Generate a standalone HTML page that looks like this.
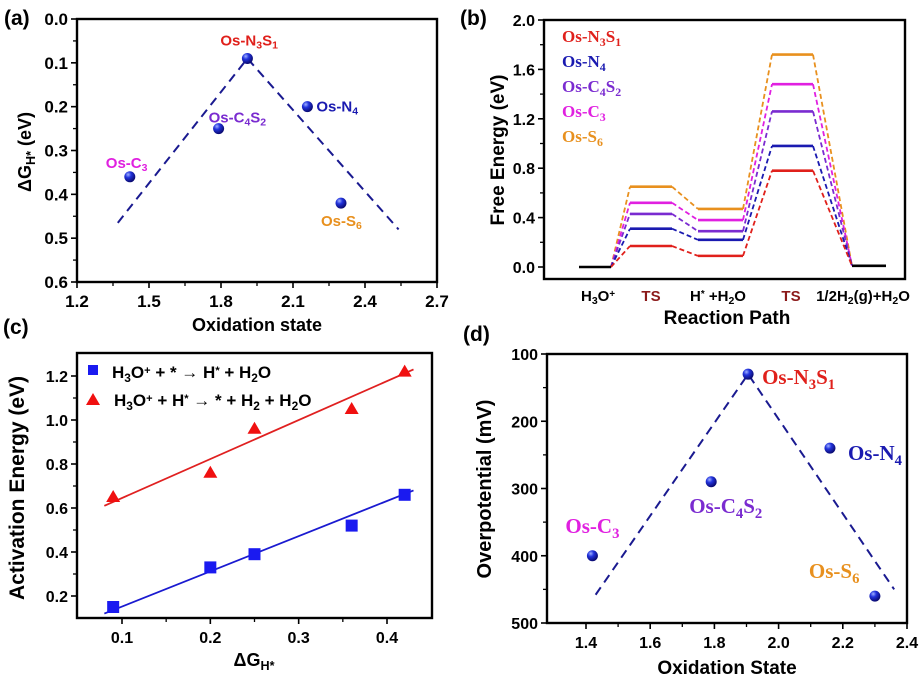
<!DOCTYPE html>
<html><head><meta charset="utf-8"><style>
body{margin:0;background:#fff}
svg{display:block;font-family:"Liberation Sans",sans-serif}
</style></head><body>
<svg id="fig" width="923" height="679" viewBox="0 0 923 679" xmlns="http://www.w3.org/2000/svg">
<defs>
<radialGradient id="ball" cx="0.35" cy="0.3" r="0.7"><stop offset="0" stop-color="#9fb0ff"/><stop offset="0.4" stop-color="#2233dd"/><stop offset="1" stop-color="#0a0a70"/></radialGradient>
</defs>
</svg>
<script>
// ---- Panel a data ----
const aNames=["Os-C3","Os-C4S2","Os-N3S1","Os-N4","Os-S6"];
const aOx=[1.42,1.79,1.91,2.16,2.30];
const aDG=[0.36,0.25,0.09,0.20,0.42];
const aTrendX=[1.37,1.91,2.54];
const aTrendY=[0.465,0.09,0.48];
const aXTicks=[1.2,1.5,1.8,2.1,2.4,2.7];
const aYTicks=[0.0,0.1,0.2,0.3,0.4,0.5,0.6];
// ---- Panel b data ----
const bSeries=["Os-N3S1","Os-N4","Os-C4S2","Os-C3","Os-S6"];
const bTS1=[0.17,0.31,0.43,0.52,0.65];
const bInt=[0.09,0.22,0.29,0.38,0.47];
const bTS2=[0.78,0.98,1.26,1.48,1.72];
const bStart=[0.0];
const bEnd=[0.01];
const bYTicks=[0.0,0.4,0.8,1.2,1.6,2.0];
// ---- Panel c data ----
const cDG=[0.09,0.20,0.25,0.36,0.42];
const cEa1=[0.15,0.33,0.39,0.52,0.66];
const cEa2=[0.65,0.76,0.96,1.05,1.22];
const cFit1=[0.12,0.68];
const cFit2=[0.61,1.23];
const cFitX=[0.08,0.43];
const cXTicks=[0.1,0.2,0.3,0.4];
const cYTicks=[0.2,0.4,0.6,0.8,1.0,1.2];
// ---- Panel d data ----
const dOx=[1.42,1.79,1.905,2.16,2.30];
const dEta=[400,290,130,240,460];
const dTrendX=[1.43,1.905,2.36];
const dTrendY=[458,130,450];
const dXTicks=[1.4,1.6,1.8,2.0,2.2,2.4];
const dYTicks=[100,200,300,400,500];

const svg=document.getElementById('fig');
const NS="http://www.w3.org/2000/svg";
function el(tag,attrs,parent){const e=document.createElementNS(NS,tag);for(const k in attrs)e.setAttribute(k,attrs[k]);(parent||svg).appendChild(e);return e;}
function lin(d0,d1,p0,p1){return v=>p0+(v-d0)*(p1-p0)/(d1-d0);}
function rich(x,y,parts,attrs,name){
  const t=el('text',Object.assign({x:x,y:y},attrs));
  
  
  parts.forEach(p=>{const s=el('tspan',{},t);s.textContent=p[0];if(p[1]==='sub'){s.setAttribute('baseline-shift','-30%');s.setAttribute('font-size','70%');}if(p[1]==='sup'){s.setAttribute('baseline-shift','40%');s.setAttribute('font-size','65%');}});
  return t;
}
function parseName(n){
  const parts=[];const re=/([A-Za-z\-]+)|(\d+)/g;let m;
  while((m=re.exec(n))){if(m[1])parts.push([m[1]]);else parts.push([m[2],'sub']);}
  return parts;
}
function axesBox(x0,y0,x1,y1,name){
  const r=el('rect',{x:x0,y:y0,width:x1-x0,height:y1-y0,fill:'none',stroke:'#000','stroke-width':2.4});
  
  
}
function xTicks(ticks,sx,yb,minorCount,fmt,fs){
  ticks.forEach((v,i)=>{
    const x=sx(v);
    el('line',{x1:x,x2:x,y1:yb,y2:yb+6,stroke:'#000','stroke-width':1.6});
    const t=el('text',{x:x,y:yb+25,'text-anchor':'middle','font-size':fs,'font-weight':'bold'});
    t.textContent=fmt(v);
    
    
    if(i<ticks.length-1&&minorCount){const st=(ticks[i+1]-v)/(minorCount+1);for(let k=1;k<=minorCount;k++){const mx=sx(v+st*k);el('line',{x1:mx,x2:mx,y1:yb,y2:yb+4,stroke:'#000','stroke-width':1.3});}}
  });
}
function yTicks(ticks,sy,xl,minorCount,fmt,fs){
  ticks.forEach((v,i)=>{
    const y=sy(v);
    el('line',{x1:xl-6,x2:xl,y1:y,y2:y,stroke:'#000','stroke-width':1.6});
    const t=el('text',{x:xl-9,y:y+6,'text-anchor':'end','font-size':fs,'font-weight':'bold'});
    t.textContent=fmt(v);
    
    
    if(i<ticks.length-1&&minorCount){const st=(ticks[i+1]-v)/(minorCount+1);for(let k=1;k<=minorCount;k++){const my=sy(v+st*k);el('line',{x1:xl-4,x2:xl,y1:my,y2:my,stroke:'#000','stroke-width':1.3});}}
  });
}
function ball(x,y,name){
  const c=el('circle',{cx:x,cy:y,r:5.5,fill:'url(#ball)'});
  
  
}
const COL={"Os-N3S1":"#e0201b","Os-N4":"#1a1ab0","Os-C4S2":"#7a2bd0","Os-C3":"#e020e0","Os-S6":"#e8901e"};

// ================= Panel a =================
{
  const sx=lin(1.2,2.7,77,437), sy=lin(0,0.6,19,282);
  axesBox(77,19,437,282,'panel-a-axes');
  xTicks(aXTicks,sx,282,1,v=>v.toFixed(1),17);
  yTicks(aYTicks,sy,77,1,v=>v.toFixed(1),17);
  const pts=aTrendX.map((x,i)=>sx(x)+','+sy(aTrendY[i])).join(' ');
  const pl=el('polyline',{points:pts,fill:'none',stroke:'#1a1a90','stroke-width':2,'stroke-dasharray':'9,6'});
  
  
  aOx.forEach((x,i)=>ball(sx(x),sy(aDG[i]),'point-'+aNames[i].toLowerCase()));
  const lp={"Os-C3":[-24,-9],"Os-C4S2":[-10,-6],"Os-N3S1":[-27,-13],"Os-N4":[9,5],"Os-S6":[-20,23]};
  aNames.forEach((n,i)=>{rich(sx(aOx[i])+lp[n][0],sy(aDG[i])+lp[n][1],parseName(n),{'font-size':15,'font-weight':'bold',fill:COL[n]},'label-'+n.toLowerCase());});
  rich(4,25,[["(a)"]],{'font-size':21,'font-weight':'bold'},'panel-a-letter');
  rich(257,331,[["Oxidation state"]],{'font-size':18,'font-weight':'bold','text-anchor':'middle'},'x-axis-title-a');
  rich(0,0,[["ΔG"],["H*",'sub'],[" (eV)"]],{'font-size':18,'font-weight':'bold','text-anchor':'middle',transform:'translate(31,152) rotate(-90)'},'y-axis-title-a');
}
// ================= Panel b =================
{
  const sy=lin(0,2.0,267,20);
  axesBox(544,20,905,279,'panel-b-axes');
  yTicks(bYTicks,sy,544,1,v=>v.toFixed(1),16);
  const seg={start:[579,611],ts1:[630,672],int:[698,743],ts2:[772,813],end:[852,886]};
  const lvl=(a,v,c,n)=>{const l=el('line',{x1:a[0],x2:a[1],y1:sy(v),y2:sy(v),stroke:c,'stroke-width':2.6});};
  const dash=(x1,v1,x2,v2,c)=>{el('line',{x1:x1,y1:sy(v1),x2:x2,y2:sy(v2),stroke:c,'stroke-width':1.8,'stroke-dasharray':'5,3'});};
  for(let i=bSeries.length-1;i>=0;i--){
    const c=COL[bSeries[i]];
    dash(seg.start[1],bStart[0],seg.ts1[0],bTS1[i],c);
    dash(seg.ts1[1],bTS1[i],seg.int[0],bInt[i],c);
    dash(seg.int[1],bInt[i],seg.ts2[0],bTS2[i],c);
    dash(seg.ts2[1],bTS2[i],seg.end[0],bEnd[0],c);
    lvl(seg.ts1,bTS1[i],c,'ts1-level-'+bSeries[i].toLowerCase());
    lvl(seg.int,bInt[i],c,'intermediate-level-'+bSeries[i].toLowerCase());
    lvl(seg.ts2,bTS2[i],c,'ts2-level-'+bSeries[i].toLowerCase());
  }
  lvl(seg.start,bStart[0],'#000','initial-level');
  lvl(seg.end,bEnd[0],'#000','final-level');
  bSeries.forEach((n,i)=>rich(562,42+i*25,parseName(n),{'font-size':17,'font-weight':'bold',fill:COL[n],'font-family':'"Liberation Serif",serif'},'legend-'+n.toLowerCase()));
  rich(460,25,[["(b)"]],{'font-size':21,'font-weight':'bold'},'panel-b-letter');
  rich(0,0,[["Free Energy (eV)"]],{'font-size':19,'font-weight':'bold','text-anchor':'middle',transform:'translate(504,150) rotate(-90)'},'y-axis-title-b');
  const xl=[[598,[["H"],["3",'sub'],["O"],["+",'sup']],'#000'],[651,[["TS"]],'#8b1a1a'],[718,[["H"],["*",'sup'],[" +H"],["2",'sub'],["O"]],'#000'],[791,[["TS"]],'#8b1a1a'],[863,[["1/2H"],["2",'sub'],["(g)+H"],["2",'sub'],["O"]],'#000']];
  xl.forEach(d=>rich(d[0],301,d[1],{'font-size':15,'font-weight':'bold','text-anchor':'middle',fill:d[2]},'x-category-label'));
  rich(727,324,[["Reaction Path"]],{'font-size':19,'font-weight':'bold','text-anchor':'middle'},'x-axis-title-b');
}
// ================= Panel c =================
{
  const sx=lin(0.1,0.4,122,387), sy=lin(0.2,1.2,596,376);
  axesBox(77,353,432,618,'panel-c-axes');
  xTicks(cXTicks,sx,618,1,v=>v.toFixed(1),16);
  yTicks(cYTicks,sy,77,1,v=>v.toFixed(1),16);
  const f1=el('line',{x1:sx(cFitX[0]),y1:sy(cFit1[0]),x2:sx(cFitX[1]),y2:sy(cFit1[1]),stroke:'#1a1ad0','stroke-width':1.8});
  
  
  const f2=el('line',{x1:sx(cFitX[0]),y1:sy(cFit2[0]),x2:sx(cFitX[1]),y2:sy(cFit2[1]),stroke:'#e02020','stroke-width':1.8});
  
  
  cDG.forEach((x,i)=>{
    const r=el('rect',{x:sx(x)-6,y:sy(cEa1[i])-6,width:12,height:12,fill:'#1a1af0'});
    
    
    const X=sx(x),Y=sy(cEa2[i]);
    const p=el('polygon',{points:`${X},${Y-7} ${X+7},${Y+5} ${X-7},${Y+5}`,fill:'#f01010'});
    
    
  });
  el('rect',{x:88,y:365,width:10,height:10,fill:'#1a1af0'});
  el('polygon',{points:'93,393 100,405 86,405',fill:'#f01010'});
  rich(112,378,[["H"],["3",'sub'],["O"],["+",'sup'],[" + * → H"],["*",'sup'],[" + H"],["2",'sub'],["O"]],{'font-size':17,'font-weight':'bold'},'legend-adsorption');
  rich(114,406,[["H"],["3",'sub'],["O"],["+",'sup'],[" + H"],["*",'sup'],[" →  * + H"],["2",'sub'],[" + H"],["2",'sub'],["O"]],{'font-size':17,'font-weight':'bold'},'legend-desorption');
  rich(3,334,[["(c)"]],{'font-size':21,'font-weight':'bold'},'panel-c-letter');
  rich(0,0,[["Activation Energy (eV)"]],{'font-size':21,'font-weight':'bold','text-anchor':'middle',transform:'translate(24,488) rotate(-90)'},'y-axis-title-c');
  rich(254,666,[["ΔG"],["H*",'sub']],{'font-size':18,'font-weight':'bold','text-anchor':'middle'},'x-axis-title-c');
}
// ================= Panel d =================
{
  const sx=lin(1.4,2.4,586,907), sy=lin(100,500,354,623);
  axesBox(547,354,907,623,'panel-d-axes');
  xTicks(dXTicks,sx,623,1,v=>v.toFixed(1),16);
  yTicks(dYTicks,sy,547,1,v=>v.toFixed(0),16);
  const pts=dTrendX.map((x,i)=>sx(x)+','+sy(dTrendY[i])).join(' ');
  const pl=el('polyline',{points:pts,fill:'none',stroke:'#1a1a90','stroke-width':2,'stroke-dasharray':'9,6'});
  
  
  dOx.forEach((x,i)=>ball(sx(x),sy(dEta[i]),'point-'+aNames[i].toLowerCase()));
  const lp={"Os-C3":[-27,-23],"Os-C4S2":[-22,31],"Os-N3S1":[14,10],"Os-N4":[18,12],"Os-S6":[-66,-18]};
  aNames.forEach((n,i)=>rich(sx(dOx[i])+lp[n][0],sy(dEta[i])+lp[n][1],parseName(n),{'font-size':21,'font-weight':'bold',fill:COL[n],'font-family':'"Liberation Serif",serif'},'label-'+n.toLowerCase()));
  rich(463,341,[["(d)"]],{'font-size':21,'font-weight':'bold'},'panel-d-letter');
  rich(0,0,[["Overpotential (mV)"]],{'font-size':20,'font-weight':'bold','text-anchor':'middle',transform:'translate(491,489) rotate(-90)'},'y-axis-title-d');
  rich(727,674,[["Oxidation State"]],{'font-size':19,'font-weight':'bold','text-anchor':'middle'},'x-axis-title-d');
}
</script>
</body></html>
